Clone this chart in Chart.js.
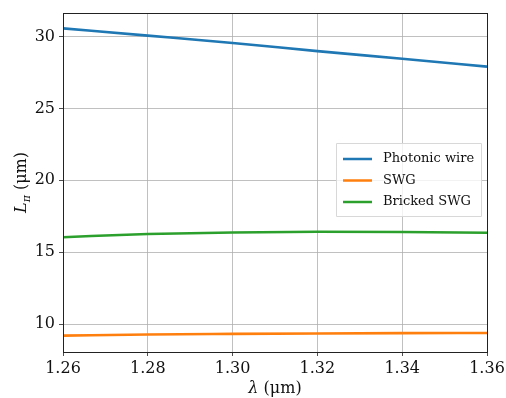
<!DOCTYPE html>
<html><head><meta charset="utf-8">
<script src="https://cdn.jsdelivr.net/npm/chart.js@4/dist/chart.umd.min.js"></script>
<style>html,body{margin:0;padding:0;background:#fff}#wrap{width:506px;height:398px}</style>
</head><body><div id="wrap"><canvas id="c" width="506" height="398"></canvas></div>
<script>
const wavelengths = [1.26, 1.28, 1.30, 1.32, 1.34, 1.36];
const photonicWire = [30.56, 30.06, 29.55, 28.98, 28.45, 27.90];
const swg = [9.21, 9.29, 9.33, 9.36, 9.38, 9.39];
const brickedSwg = [16.05, 16.27, 16.38, 16.43, 16.41, 16.36];
const seriesLabels = ['Photonic wire', 'SWG', 'Bricked SWG'];
const xTicks = [1.26, 1.28, 1.30, 1.32, 1.34, 1.36];
const yTicks = [10, 15, 20, 25, 30];

const FONT = '"DejaVu Serif", serif';
const toXY = arr => wavelengths.map((x, i) => ({x, y: arr[i]}));

const overlay = {
  id: 'overlay',
  afterDraw(chart) {
    const ctx = chart.ctx, a = chart.chartArea;
    ctx.save();
    ctx.strokeStyle = '#222'; ctx.lineWidth = 1;
    ctx.strokeRect(Math.round(a.left) + 0.5, Math.round(a.top) + 0.5,
      Math.round(a.right) - Math.round(a.left), Math.round(a.bottom) - Math.round(a.top));
    // legend
    const lx = 336, ly = 143, lw = 145, lh = 73;
    ctx.fillStyle = 'rgba(255,255,255,0.8)';
    ctx.strokeStyle = '#d8d8d8'; ctx.lineWidth = 1;
    ctx.beginPath(); ctx.rect(lx + 0.5, ly + 0.5, lw, lh); ctx.fill(); ctx.stroke();
    chart.data.datasets.forEach((ds, i) => {
      const y = ly + 16 + i * 21.5;
      ctx.strokeStyle = ds.borderColor; ctx.lineWidth = 2.5;
      ctx.beginPath(); ctx.moveTo(lx + 7, y); ctx.lineTo(lx + 36, y); ctx.stroke();
      ctx.fillStyle = '#111'; ctx.font = '13px ' + FONT;
      ctx.textBaseline = 'middle'; ctx.textAlign = 'left';
      ctx.fillText(ds.label, lx + 47, y);
    });
    // x title
    ctx.fillStyle = '#111'; ctx.textBaseline = 'alphabetic';
    const xt1 = 'λ', xt2 = ' (μm)';
    ctx.font = '16px ' + FONT;
    const w2 = ctx.measureText(xt2).width;
    ctx.font = 'italic 16px ' + FONT;
    const w1 = ctx.measureText(xt1).width;
    const cx = (a.left + a.right) / 2;
    const sx = cx - (w1 + w2) / 2;
    ctx.fillText(xt1, sx, 393);
    ctx.font = '16px ' + FONT;
    ctx.fillText(xt2, sx + w1, 393);
    // y title
    ctx.save();
    ctx.translate(26, (a.top + a.bottom) / 2);
    ctx.rotate(-Math.PI / 2);
    ctx.font = 'italic 16px ' + FONT;
    const L = 'L'; const wl = ctx.measureText(L).width;
    ctx.font = 'italic 11px ' + FONT;
    const pi = 'π'; const wp = ctx.measureText(pi).width;
    ctx.font = '16px ' + FONT;
    const um = ' (μm)'; const wu = ctx.measureText(um).width;
    const px = -(wl + wp + wu) / 2;
    ctx.font = 'italic 16px ' + FONT; ctx.fillText(L, px, 0);
    ctx.font = 'italic 11px ' + FONT; ctx.fillText(pi, px + wl, 4);
    ctx.font = '16px ' + FONT; ctx.fillText(um, px + wl + wp, 0);
    ctx.restore();
    ctx.restore();
  }
};

new Chart(document.getElementById('c'), {
  type: 'line',
  data: {
    datasets: [
      {label: seriesLabels[0], data: toXY(photonicWire), borderColor: '#1f77b4'},
      {label: seriesLabels[1], data: toXY(swg), borderColor: '#ff7f0e'},
      {label: seriesLabels[2], data: toXY(brickedSwg), borderColor: '#2ca02c'}
    ].map(d => Object.assign(d, {borderWidth: 2.6, pointRadius: 0, fill: false, cubicInterpolationMode: 'monotone'}))
  },
  options: {
    responsive: false, animation: false, devicePixelRatio: 1,
    layout: {padding: {left: 0, top: 13, right: 19, bottom: 0}},
    plugins: {legend: {display: false}, tooltip: {enabled: false}},
    scales: {
      x: {
        type: 'linear', min: 1.26, max: 1.36,
        afterBuildTicks: s => { s.ticks = xTicks.map(v => ({value: v})); },
        afterFit: s => { s.height = 46; s.paddingRight = 0; s.paddingLeft = 0; },
        ticks: {font: {family: FONT, size: 16}, color: '#111', padding: 3, maxRotation: 0,
          callback: v => Number(v).toFixed(2)},
        grid: {color: '#b0b0b0', lineWidth: 0.8, tickLength: 4, tickColor: '#222', drawTicks: true},
        border: {display: false}
      },
      y: {
        type: 'linear', min: 8.07, max: 31.63,
        afterBuildTicks: s => { s.ticks = yTicks.map(v => ({value: v})); },
        afterFit: s => { s.width = 63; s.paddingTop = 0; s.paddingBottom = 0; },
        ticks: {font: {family: FONT, size: 16}, color: '#111', padding: 4,
          callback: v => String(v)},
        grid: {color: '#b0b0b0', lineWidth: 0.8, tickLength: 4, tickColor: '#222', drawTicks: true},
        border: {display: false}
      }
    }
  },
  plugins: [overlay]
});
</script></body></html>
